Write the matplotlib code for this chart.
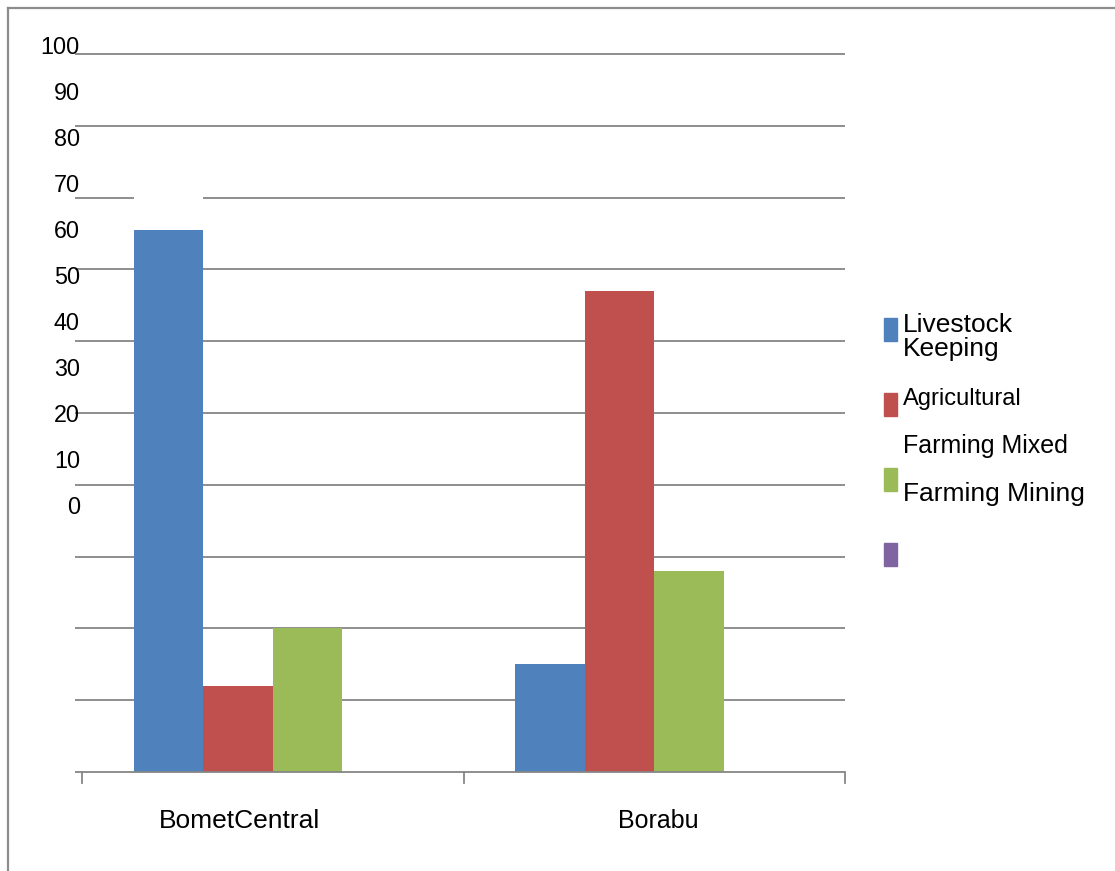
import matplotlib
matplotlib.use("Agg")
import matplotlib.pyplot as plt
import numpy as np
from matplotlib.lines import Line2D

plt.rcParams["font.family"] = ["Liberation Sans", "DejaVu Sans"]

# ── Data ──────────────────────────────────────────────────────────────────────
regions = ["BometCentral", "Borabu"]
series = ["Livestock Keeping", "Agricultural Farming", "Mixed Farming", "Mining"]
livestock = [75.5, 15]
agricultural = [12, 67]
mixed = [20, 28]
mining = [0, 0]
y_labels = ["100", "90", "80", "70", "60", "50", "40", "30", "20", "10", "0"]
legend_lines = ["Livestock", "Keeping", "Agricultural", "Farming Mixed", "Farming Mining"]

COLORS = ["#4F81BD", "#C0504D", "#9BBB59", "#8064A2"]
GRID = "#868686"

W, H = 1115, 871
fig = plt.figure(figsize=(W / 100, H / 100), dpi=100)
ax = fig.add_axes([82 / W, (H - 772) / H, (845 - 82) / W, (772 - 54) / H])

x = np.arange(len(regions))
bw = 0.1825
values = [livestock, agricultural, mixed, mining]
for i, (vals, col) in enumerate(zip(values, COLORS)):
    ax.bar(x + (i - 1.5) * bw, vals, width=bw, color=col, zorder=2)

ax.set_xlim(-0.5, len(regions) - 0.5)
ax.set_ylim(0, 100)
for s in ax.spines.values():
    s.set_visible(False)
ax.set_xticks([])
ax.set_yticks([])

# gridlines stick out a little to the left; the 80 line is broken over the first bar
x0 = -0.5 - 7 / 382
x1 = len(regions) - 0.5
for g in range(10, 101, 10):
    if g == 80:
        gap_l = x[0] - 1.5 * bw - bw / 2
        gap_r = gap_l + bw
        ax.hlines(g, x0, gap_l, color=GRID, lw=1.3, clip_on=False, zorder=1)
        ax.hlines(g, gap_r, x1, color=GRID, lw=1.3, clip_on=False, zorder=1)
    else:
        ax.hlines(g, x0, x1, color=GRID, lw=1.3, clip_on=False, zorder=1)

# baseline with category separators
ax.hlines(0, x0, x1, color=GRID, lw=1.3, clip_on=False, zorder=3)
for t in np.arange(-0.5, len(regions), 1.0):
    ax.plot([t, t], [0, -1.6], color=GRID, lw=1.3, clip_on=False)

# y labels, set in a column of their own
for i, lab in enumerate(y_labels):
    fig.text(80 / W, 1 - (47 + i * 46.1) / H, lab, ha="right", va="center",
             fontsize=16.8, color="black")

# category labels
ax.text(-0.086, -6.8, regions[0], ha="center", va="center", fontsize=19)
ax.text(0.01 + 1, -6.8, regions[1], ha="center", va="center", fontsize=18)

# legend drawn by hand
sq_top = [318, 393, 468, 543]
for top, col in zip(sq_top, COLORS):
    fig.patches.append(plt.Rectangle((884 / W, 1 - (top + 23) / H), 13 / W, 23 / H,
                                     transform=fig.transFigure, color=col))
legend_base = [332, 356, 405, 453, 501]
legend_size = [19, 19, 17, 18, 19]
for txt, yb, fs in zip(legend_lines, legend_base, legend_size):
    fig.text(903 / W, 1 - yb / H, txt, ha="left", va="baseline", fontsize=fs)

# outer frame (left and top edges)
fig.add_artist(Line2D([8 / W, 8 / W], [0, 1 - 8 / H], color="#8c8c8c", lw=1.6,
                      transform=fig.transFigure))
fig.add_artist(Line2D([8 / W, 1], [1 - 8 / H, 1 - 8 / H], color="#8c8c8c", lw=1.6,
                      transform=fig.transFigure))

fig.savefig("out.png", dpi=100)
